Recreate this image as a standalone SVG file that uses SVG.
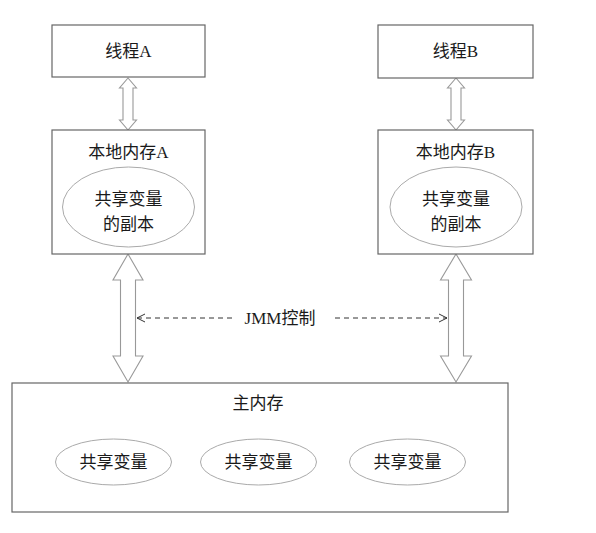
<svg xmlns="http://www.w3.org/2000/svg" width="596" height="533" viewBox="0 0 596 533">
<style>
.box{fill:#fff;stroke:#666;stroke-width:1.2}
.ell{fill:#fff;stroke:#aaa;stroke-width:1}
.arr{fill:#fff;stroke:#999;stroke-width:1.1}
.dash{fill:none;stroke:#333;stroke-width:1;stroke-dasharray:5,4}
.t{font-family:"Liberation Serif","Noto Sans CJK SC",serif;font-size:17px;fill:#1a1a1a;text-anchor:middle}
</style>
<defs>
<marker id="open" viewBox="0 0 10 10" refX="9" refY="5" markerWidth="10" markerHeight="10" markerUnits="userSpaceOnUse" orient="auto-start-reverse">
<path d="M1,1 L9,5 L1,9" fill="none" stroke="#333" stroke-width="1"/>
</marker>
</defs>
<rect width="596" height="533" fill="#fff"/>
<g id="connectors">
<path class="arr" d="M128,78 L136.5,88 L133,88 L133,120 L136.5,120 L128,130 L119.5,120 L123,120 L123,88 L119.5,88 Z"/>
<path class="arr" d="M456,78 L464.5,88 L461,88 L461,120 L464.5,120 L456,130 L447.5,120 L451,120 L451,88 L447.5,88 Z"/>
<path class="arr" d="M128,254 L143,280 L135.5,280 L135.5,356 L143,356 L128,382 L113,356 L120.5,356 L120.5,280 L113,280 Z"/>
<path class="arr" d="M456,254 L471.5,280 L463.5,280 L463.5,356 L471.5,356 L456,382 L440.5,356 L448.5,356 L448.5,280 L440.5,280 Z"/>
<line class="dash" x1="232" y1="318" x2="137" y2="318" marker-end="url(#open)"/>
<line class="dash" x1="335" y1="318" x2="447" y2="318" marker-end="url(#open)"/>
<text class="t" x="280" y="324">JMM控制</text>
</g>
<g id="threadA">
<rect class="box" x="52" y="25" width="153" height="52"/>
<text class="t" x="128.5" y="57">线程A</text>
</g>
<g id="threadB">
<rect class="box" x="378" y="25" width="155" height="53"/>
<text class="t" x="455.5" y="57">线程B</text>
</g>
<g id="localA">
<rect class="box" x="52" y="130" width="153" height="124"/>
<text class="t" x="128.5" y="158">本地内存A</text>
<ellipse class="ell" cx="128.5" cy="207" rx="66" ry="40"/>
<text class="t" x="128.5" y="205">共享变量</text>
<text class="t" x="128.5" y="230">的副本</text>
</g>
<g id="localB">
<rect class="box" x="378" y="130" width="155" height="124"/>
<text class="t" x="455.5" y="158">本地内存B</text>
<ellipse class="ell" cx="456" cy="207" rx="66" ry="40"/>
<text class="t" x="456" y="205">共享变量</text>
<text class="t" x="456" y="230">的副本</text>
</g>
<g id="mainMemory">
<rect class="box" x="12" y="383" width="496" height="129"/>
<text class="t" x="258" y="409">主内存</text>
<ellipse class="ell" cx="113.5" cy="462" rx="58" ry="23"/>
<text class="t" x="113.5" y="468">共享变量</text>
<ellipse class="ell" cx="258.5" cy="462" rx="58" ry="23"/>
<text class="t" x="258.5" y="468">共享变量</text>
<ellipse class="ell" cx="407.5" cy="462" rx="58" ry="23"/>
<text class="t" x="407.5" y="468">共享变量</text>
</g>
</svg>
